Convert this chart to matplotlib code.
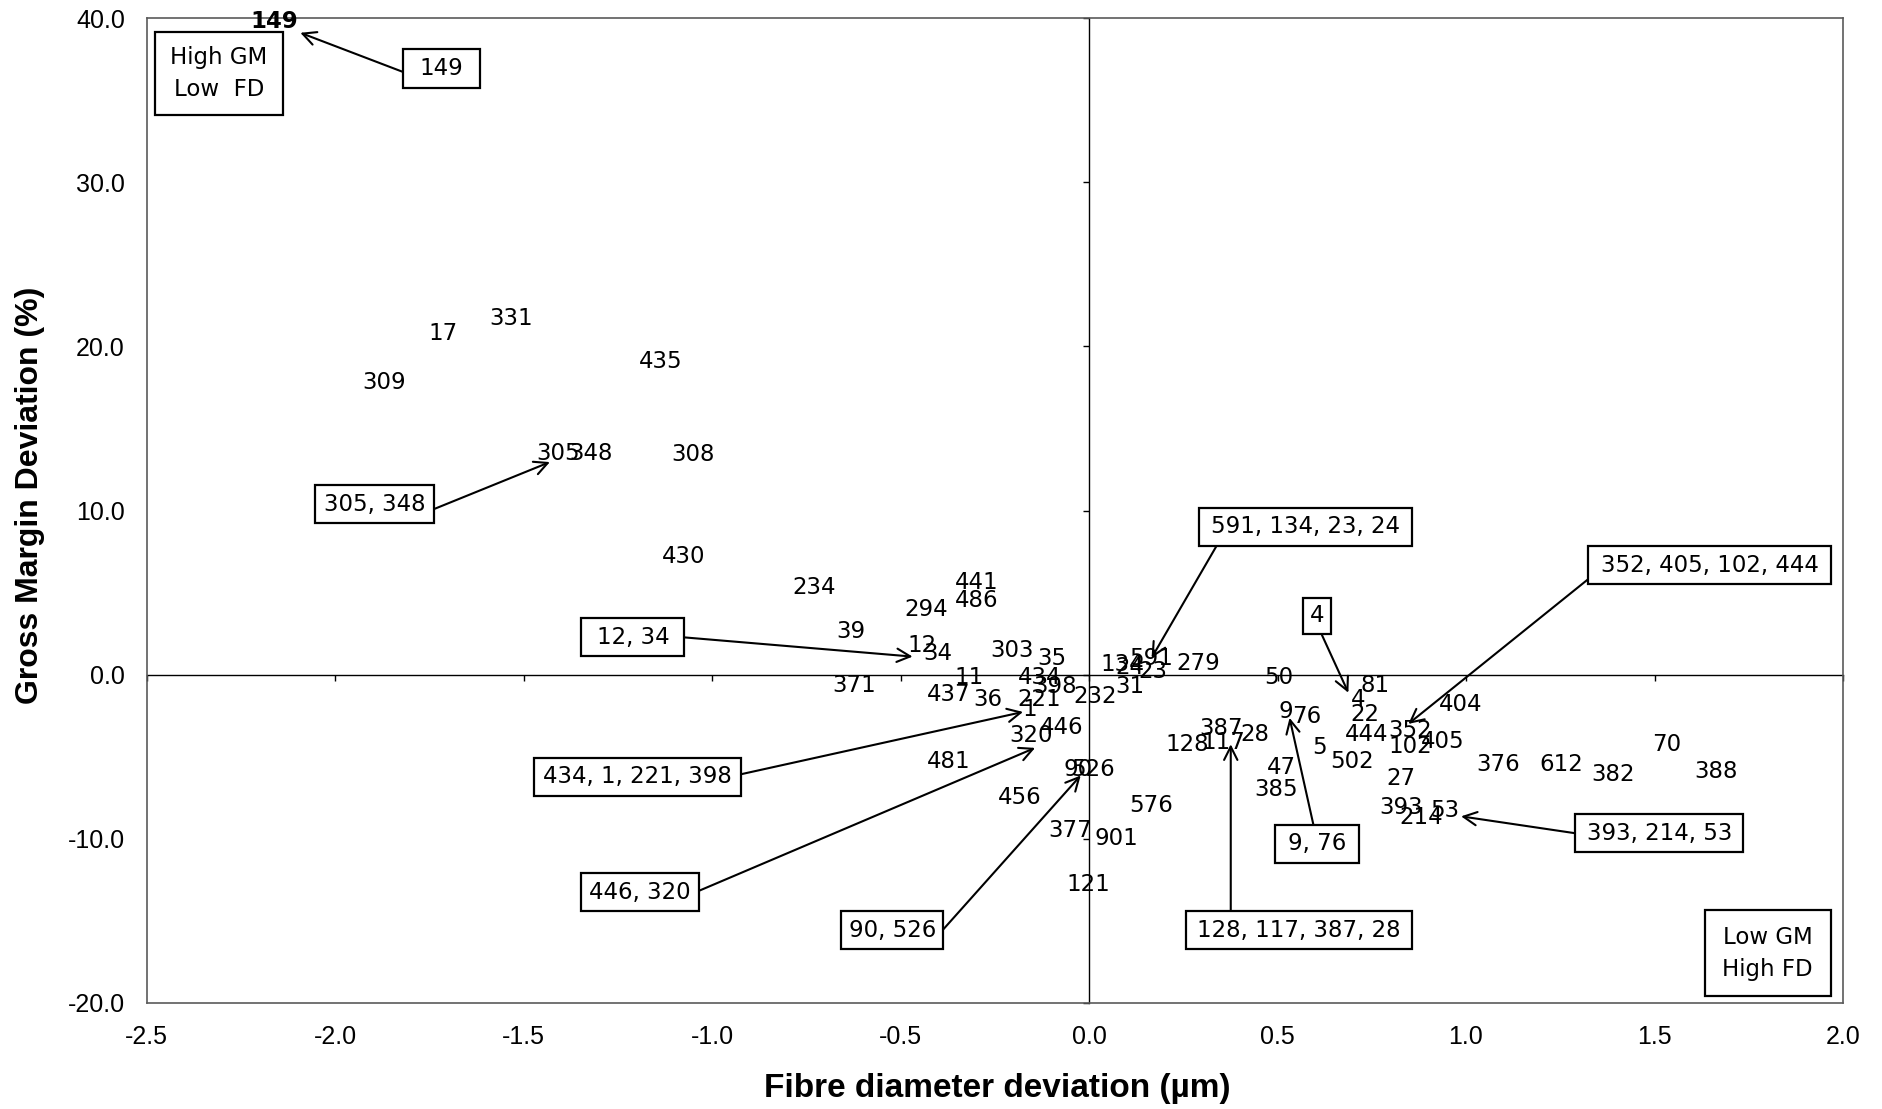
import matplotlib
matplotlib.use('Agg')
import matplotlib.pyplot as plt
from matplotlib.patches import Rectangle

# ---------------- data ----------------
farm_ids = ['149', '17', '331', '309', '435', '305', '348', '308', '430', '234',
            '441', '486', '294', '39', '12', '34', '303', '35', '371', '11',
            '437', '36', '434', '1', '221', '398', '232', '31', '134', '24',
            '591', '23', '279', '50', '9', '76', '81', '4', '22', '444',
            '352', '102', '405', '404', '5', '502', '47', '385', '27', '393',
            '214', '53', '376', '612', '382', '70', '388', '128', '117', '387',
            '28', '576', '901', '377', '121', '90', '526', '446', '320', '481',
            '456']
fd_dev = [-2.16, -1.713, -1.532, -1.869, -1.137, -1.408, -1.32, -1.051, -1.076, -0.729,
          -0.299, -0.299, -0.433, -0.631, -0.443, -0.401, -0.204, -0.099, -0.624, -0.318,
          -0.373, -0.268, -0.131, -0.157, -0.131, -0.091, 0.016, 0.108, 0.089, 0.108,
          0.166, 0.169, 0.29, 0.503, 0.522, 0.577, 0.758, 0.713, 0.731, 0.736,
          0.851, 0.851, 0.939, 0.987, 0.611, 0.697, 0.51, 0.497, 0.828, 0.829,
          0.882, 0.944, 1.086, 1.252, 1.389, 1.532, 1.662, 0.261, 0.356, 0.351,
          0.44, 0.166, 0.073, -0.051, -0.003, -0.03, 0.01, -0.073, -0.153, -0.373,
          -0.185]
gm_dev = [39.8, 20.8, 21.7, 17.8, 19.1, 13.5, 13.5, 13.4, 7.2, 5.3,
          5.6, 4.5, 4.0, 2.6, 1.8, 1.3, 1.5, 1.0, -0.66, -0.15,
          -1.2, -1.5, -0.2, -2.1, -1.5, -0.7, -1.3, -0.72, 0.6, 0.44,
          1.0, 0.2, 0.66, -0.2, -2.24, -2.55, -0.66, -1.53, -2.44, -3.66,
          -3.4, -4.37, -4.07, -1.83, -4.46, -5.27, -5.63, -7.0, -6.3, -8.1,
          -8.7, -8.3, -5.5, -5.5, -6.1, -4.24, -5.9, -4.24, -4.15, -3.26,
          -3.66, -8.0, -10.0, -9.5, -12.8, -5.8, -5.8, -3.2, -3.7, -5.3,
          -7.5]
bold_ids = ['149']

x_ticks = [-2.5, -2.0, -1.5, -1.0, -0.5, 0.0, 0.5, 1.0, 1.5, 2.0]
y_ticks = [-20, -10, 0, 10, 20, 30, 40]
x_tick_labels = ['-2.5', '-2.0', '-1.5', '-1.0', '-0.5', '0.0', '0.5', '1.0', '1.5', '2.0']
y_tick_labels = ['-20.0', '-10.0', '0.0', '10.0', '20.0', '30.0', '40.0']

x_title = 'Fibre diameter deviation (\u00b5m)'
y_title = 'Gross Margin Deviation (%)'

# callouts: text, box centre (data), box size (px), arrow tail, arrow tip (data)
callouts = [
    ('149', (-1.718, 36.92), (77, 39), (-1.818, 36.7), (-2.092, 39.1)),
    ('305, 348', (-1.895, 10.39), (119, 38), (-1.736, 10.1), (-1.430, 12.95)),
    ('12, 34', (-1.210, 2.27), (103, 38), (-1.073, 2.27), (-0.468, 1.10)),
    ('434, 1, 221, 398', (-1.197, -6.22), (207, 38), (-0.924, -6.07), (-0.175, -2.27)),
    ('446, 320', (-1.191, -13.24), (118, 38), (-1.035, -13.17), (-0.143, -4.46)),
    ('90, 526', (-0.522, -15.58), (102, 38), (-0.389, -15.58), (-0.022, -6.14)),
    ('591, 134, 23, 24', (0.573, 9.0), (213, 38), (0.338, 7.83), (0.166, 1.02)),
    ('4', (0.605, 3.58), (28, 36), (0.618, 2.41), (0.688, -1.10)),
    ('352, 405, 102, 444', (1.646, 6.66), (243, 38), (1.334, 6.0), (0.847, -3.0)),
    ('9, 76', (0.605, -10.31), (84, 38), (0.596, -9.22), (0.532, -2.63)),
    ('128, 117, 387, 28', (0.557, -15.58), (226, 38), (0.376, -14.41), (0.376, -4.24)),
    ('393, 214, 53', (1.513, -9.66), (168, 38), (1.290, -9.66), (0.987, -8.63)),
]
quadrant_notes = [
    ('High GM\nLow  FD', (-2.308, 36.63), (128, 83)),
    ('Low GM\nHigh FD', (1.80, -16.97), (126, 86)),
]

# ---------------- figure ----------------
W, H = 1883, 1109
fig = plt.figure(figsize=(W / 100, H / 100), dpi=100)
L, R, T, B = 146.5, 1843, 18, 1003
rect = [L / W, 1 - B / H, (R - L) / W, (B - T) / H]
ax = fig.add_axes(rect)
ax.set_xlim(-2.5, 2.0)
ax.set_ylim(-20, 40)
for s in ax.spines.values():
    s.set_color('#5a5a5a')
    s.set_linewidth(1.2)
ax.set_xticks(x_ticks)
ax.set_xticklabels(x_tick_labels, family='Liberation Sans', fontsize=18)
ax.set_yticks(y_ticks)
ax.set_yticklabels(y_tick_labels, family='Liberation Sans', fontsize=18)
ax.tick_params(axis='x', length=0, pad=15.5)
ax.tick_params(axis='y', length=0, pad=15.5)

# overlay axes for the zero-crossing axis lines
ax2 = fig.add_axes(rect)
ax2.set_xlim(-2.5, 2.0)
ax2.set_ylim(-20, 40)
ax2.patch.set_visible(False)
ax2.spines['left'].set_position(('data', 0))
ax2.spines['bottom'].set_position(('data', 0))
ax2.spines['top'].set_visible(False)
ax2.spines['right'].set_visible(False)
for k in ('left', 'bottom'):
    ax2.spines[k].set_color('black')
    ax2.spines[k].set_linewidth(1.0)
ax2.set_xticks(x_ticks)
ax2.set_yticks(y_ticks)
ax2.tick_params(labelleft=False, labelbottom=False, direction='out',
                length=4.5, width=1.0, color='black')
ax2.set_zorder(0)
ax.set_zorder(1)
ax.patch.set_visible(False)

# data labels
for lbl, x, y in zip(farm_ids, fd_dev, gm_dev):
    ax.text(x, y, lbl, ha='center', va='center', fontsize=16.5,
            family='DejaVu Sans',
            fontweight='bold' if lbl in bold_ids else 'normal',
            color='black', zorder=3)


def draw_box(center, size, z=5):
    cx, cy = ax.transData.transform(center)
    w, h = size
    ax.add_patch(Rectangle(((cx - w / 2) / W, (cy - h / 2) / H), w / W, h / H,
                           transform=fig.transFigure, facecolor='white',
                           edgecolor='black', linewidth=1.6, clip_on=False,
                           zorder=z))


for txt, center, size, tail, tip in callouts:
    ax.annotate('', xy=tip, xytext=tail,
                arrowprops=dict(arrowstyle='->', color='black', lw=1.5,
                                shrinkA=0, shrinkB=0, mutation_scale=24),
                zorder=4, annotation_clip=False)
    draw_box(center, size)
    ax.text(center[0], center[1], txt, ha='center', va='center',
            fontsize=16.5, family='DejaVu Sans', zorder=6)

for txt, center, size in quadrant_notes:
    draw_box(center, size)
    ax.text(center[0], center[1], txt, ha='center', va='center',
            multialignment='center', linespacing=1.5,
            fontsize=16.5, family='DejaVu Sans', zorder=6)

fig.text(30 / W, 1 - 495 / H, y_title, rotation=90, ha='center', va='center',
         family='Liberation Sans', fontweight='bold', fontsize=23)
fig.text(997 / W, 1 - 1089 / H, x_title, ha='center', va='center',
         family='Liberation Sans', fontweight='bold', fontsize=24)

fig.savefig('out.png', dpi=100, facecolor='white')
